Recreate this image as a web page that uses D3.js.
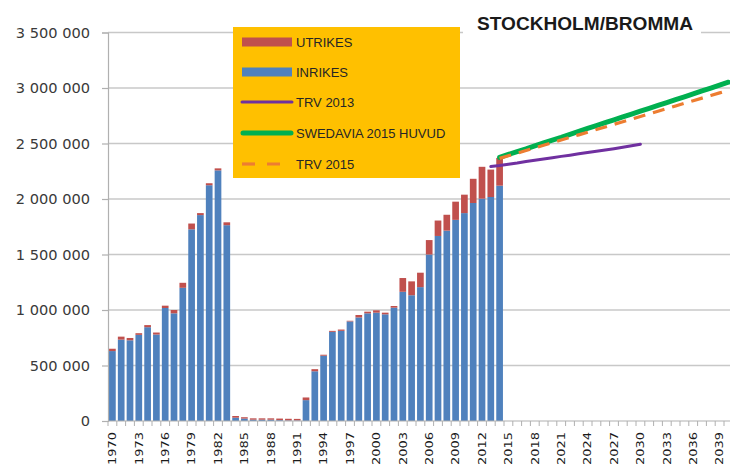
<!DOCTYPE html>
<html>
<head>
<meta charset="utf-8">
<script src="https://cdn.jsdelivr.net/npm/d3@7"></script>
<style>
  html, body { margin: 0; padding: 0; background: #fff; }
  svg { display: block; }
</style>
</head>
<body>
<div id="chart"></div>
<script>
// ---------- DATA ----------
const years = d3.range(1970, 2041); // categories 1970..2040
const histYears = d3.range(1970, 2015);
const inrikes = [630000, 733000, 727000, 776000, 845000, 779000, 1018000, 970000, 1200000, 1727000,
  1855000, 2124000, 2258000, 1764000, 30000, 22000, 12000, 12000, 12000, 8000,
  5000, 5000, 188000, 448000, 588000, 803000, 812000, 897000, 933000, 970000,
  976000, 961000, 1021000, 1164000, 1133000, 1206000, 1500000, 1667000, 1715000, 1812000,
  1873000, 1964000, 2003000, 2018000, 2120000];
const utrikes = [21000, 27000, 21000, 15000, 19000, 18000, 21000, 30000, 45000, 52000,
  18000, 18000, 18000, 26000, 15000, 12000, 12000, 12000, 12000, 14000,
  15000, 14000, 24000, 19000, 9000, 9000, 12000, 6000, 22000, 15000,
  21000, 15000, 15000, 124000, 125000, 130000, 130000, 139000, 143000, 164000,
  166000, 218000, 287000, 247000, 250000];

const trv2013Years = d3.range(2013, 2031);
const trv2013 = [2292000, 2302000, 2314000, 2325000, 2338000, 2349000, 2360000, 2372000, 2384000,
  2395000, 2407000, 2419000, 2430000, 2441000, 2453000, 2466000, 2480000, 2494000];

const forecastYears = d3.range(2014, 2041);
const swedavia2015 = [2374000, 2401000, 2427000, 2452000, 2479000, 2505000, 2531000, 2556000, 2583000,
  2609000, 2636000, 2661000, 2687000, 2713000, 2740000, 2765000, 2791000, 2817000, 2843000,
  2869000, 2896000, 2921000, 2947000, 2973000, 2999000, 3026000, 3052000];
const trv2015 = [2366000, 2390000, 2413000, 2437000, 2460000, 2484000, 2508000, 2531000, 2555000,
  2578000, 2602000, 2626000, 2649000, 2673000, 2696000, 2720000, 2744000, 2767000, 2791000,
  2814000, 2838000, 2862000, 2885000, 2909000, 2932000, 2956000, 2979000];

const yTicks = [0, 500000, 1000000, 1500000, 2000000, 2500000, 3000000, 3500000];
const xLabelYears = years.filter(v => (v - 1970) % 3 === 0);

const legendItems = [
  { label: "UTRIKES", type: "rect", color: "#C0504D" },
  { label: "INRIKES", type: "rect", color: "#4F81BD" },
  { label: "TRV 2013", type: "line", color: "#7030A0" },
  { label: "SWEDAVIA 2015 HUVUD", type: "thick", color: "#00B050" },
  { label: "TRV 2015", type: "dash", color: "#ED7D31" }
];
const chartTitle = "STOCKHOLM/BROMMA";

// ---------- CHART ----------
(function () {
const W = 730, H = 470;
const pL = 108, step = 8.8, pB = 421, pT = 32.5;

const svg = d3.select("#chart").append("svg").attr("width", W).attr("height", H);

const x = d3.scaleBand().domain(years).range([pL, pL + years.length * step])
  .paddingInner(0.24).paddingOuter(0.12);
const y = d3.scaleLinear().domain([0, 3500000]).range([pB, pT]);
const cx = d => x(d) + x.bandwidth() / 2;

// gridlines
svg.append("g").selectAll("line").data(yTicks.filter(t => t > 0)).join("line")
  .attr("x1", pL).attr("x2", W).attr("y1", d => y(d)).attr("y2", d => y(d))
  .attr("stroke", "#c8c8c8").attr("stroke-width", 1.4);

// y axis
const fmt = d3.formatLocale({ decimal: ",", thousands: " ", grouping: [3], currency: ["", ""] }).format(",.0f");
const yAxis = svg.append("g").attr("transform", `translate(${pL},0)`)
  .call(d3.axisLeft(y).tickValues(yTicks).tickFormat(fmt).tickSize(6).tickPadding(12));
yAxis.select(".domain").attr("stroke", "#b0b0b0").attr("stroke-width", 1.2);
yAxis.selectAll(".tick line").attr("stroke", "#b0b0b0").attr("stroke-width", 1.2);
yAxis.selectAll(".tick text").attr("font-family", "DejaVu Sans").attr("font-size", 14.6)
  .attr("fill", "#3a3a3a");

// bars
const stackData = histYears.map((yr, i) => ({ year: yr, inr: inrikes[i], utr: utrikes[i] }));
const gb = svg.append("g");
gb.selectAll("rect.inr").data(stackData).join("rect").attr("class", "inr")
  .attr("x", d => x(d.year)).attr("width", x.bandwidth())
  .attr("y", d => y(d.inr)).attr("height", d => y(0) - y(d.inr))
  .attr("fill", "#4F81BD");
gb.selectAll("rect.utr").data(stackData).join("rect").attr("class", "utr")
  .attr("x", d => x(d.year)).attr("width", x.bandwidth())
  .attr("y", d => y(d.inr + d.utr)).attr("height", d => y(d.inr) - y(d.inr + d.utr))
  .attr("fill", "#C0504D");

// x axis
const halfGap = (x.step() - x.bandwidth()) / 2;
svg.append("line").attr("x1", pL).attr("x2", W).attr("y1", pB).attr("y2", pB)
  .attr("stroke", "#b0b0b0").attr("stroke-width", 1.2);
svg.append("g").selectAll("line").data(years).join("line")
  .attr("x1", d => x(d) - halfGap).attr("x2", d => x(d) - halfGap)
  .attr("y1", pB).attr("y2", pB + 5)
  .attr("stroke", "#b0b0b0").attr("stroke-width", 1);
svg.append("g").selectAll("text").data(xLabelYears).join("text")
  .attr("transform", d => `translate(${cx(d)},${pB + 11}) rotate(-90)`)
  .attr("text-anchor", "end").attr("dy", "0.36em")
  .attr("font-family", "DejaVu Sans").attr("font-size", 10.5).attr("fill", "#1a1a1a")
  .attr("textLength", 33).attr("lengthAdjust", "spacingAndGlyphs")
  .text(d => d);

// lines
const line = d3.line().x(d => cx(d[0])).y(d => y(d[1]));
svg.append("path").datum(trv2013Years.map((yr, i) => [yr, trv2013[i]]))
  .attr("d", line).attr("fill", "none").attr("stroke", "#7030A0").attr("stroke-width", 3)
  .attr("stroke-linecap", "round");
svg.append("path").datum(forecastYears.map((yr, i) => [yr, swedavia2015[i]]))
  .attr("d", line).attr("fill", "none").attr("stroke", "#00B050").attr("stroke-width", 5)
  .attr("stroke-linecap", "round");
svg.append("path").datum(forecastYears.map((yr, i) => [yr, trv2015[i]]))
  .attr("d", line).attr("fill", "none").attr("stroke", "#ED7D31").attr("stroke-width", 3.2)
  .attr("stroke-dasharray", "12,8");

// legend
const lg = svg.append("g");
lg.append("rect").attr("x", 233).attr("y", 27).attr("width", 227).attr("height", 151).attr("fill", "#FFC000");
const ly = [42, 72, 102, 133, 164];
legendItems.forEach((it, i) => {
  const yy = ly[i];
  if (it.type === "rect") {
    lg.append("rect").attr("x", 242).attr("y", yy - 4.5).attr("width", 50).attr("height", 9).attr("fill", it.color);
  } else if (it.type === "line") {
    lg.append("line").attr("x1", 242).attr("x2", 292).attr("y1", yy).attr("y2", yy)
      .attr("stroke", it.color).attr("stroke-width", 3).attr("stroke-linecap", "round");
  } else if (it.type === "thick") {
    lg.append("line").attr("x1", 243).attr("x2", 291).attr("y1", yy).attr("y2", yy)
      .attr("stroke", it.color).attr("stroke-width", 5).attr("stroke-linecap", "round");
  } else {
    lg.append("line").attr("x1", 242).attr("x2", 292).attr("y1", yy).attr("y2", yy)
      .attr("stroke", it.color).attr("stroke-width", 3.2).attr("stroke-dasharray", "13,12");
  }
  lg.append("text").attr("x", 296).attr("y", yy).attr("dy", "0.36em")
    .attr("font-family", "Liberation Sans").attr("font-size", 13).attr("fill", "#262626")
    .text(it.label);
});

// title
svg.append("rect").attr("x", 463).attr("y", 8).attr("width", 238).attr("height", 30).attr("fill", "#fff");
svg.append("text").attr("x", 477).attr("y", 29.5)
  .attr("font-family", "Liberation Sans").attr("font-weight", "bold").attr("font-size", 17.5)
  .attr("fill", "#1a1a1a").attr("textLength", 216).attr("lengthAdjust", "spacingAndGlyphs")
  .text(chartTitle);
})();
</script>
</body>
</html>
